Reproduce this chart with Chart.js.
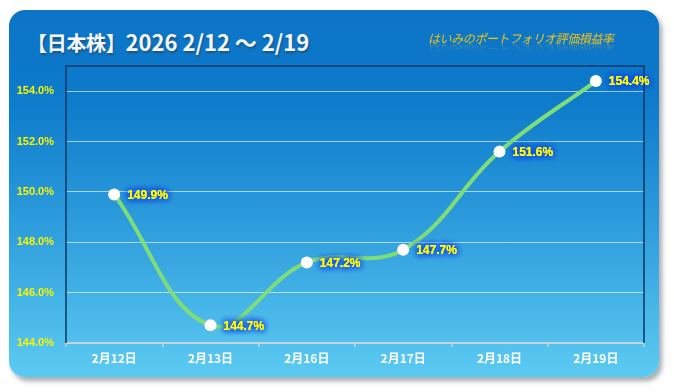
<!DOCTYPE html>
<html>
<head>
<meta charset="utf-8">
<script src="https://cdn.jsdelivr.net/npm/chart.js@4.4.1/dist/chart.umd.min.js"></script>
<style>
  html, body { margin: 0; padding: 0; background: #fff; }
  #wrap { position: relative; width: 674px; height: 392px; overflow: hidden; }
  #panel {
    position: absolute; left: 9px; top: 10px; width: 650px; height: 367px;
    border-radius: 16px;
    background: linear-gradient(180deg, #0b74c6 0%, #0e7bcb 25%, #2f9edd 60%, #5ccbf2 100%);
    box-shadow: 3px 4px 5px rgba(90, 100, 110, 0.55);
  }
  #title {
    position: absolute; left: 27px; top: 25px;
    font-family: "Noto Sans CJK JP", "Noto Sans", sans-serif; font-weight: bold; font-size: 20px;
    color: #f4f8fc; letter-spacing: -0.3px;
    text-shadow: 1px 2px 2px rgba(40, 60, 90, 0.6);
  }
  #title span { font-size: 22px; letter-spacing: 0px; }
  #sub {
    position: absolute; left: 428px; top: 29px;
    font-family: "Noto Sans CJK JP", sans-serif; font-style: italic; font-size: 12px;
    color: #f2c21a; letter-spacing: -0.4px;
    -webkit-box-reflect: below -5px linear-gradient(transparent 35%, rgba(255,255,255,0.45));
  }
  canvas { position: absolute; left: 0; top: 0; }
</style>
</head>
<body>
<div id="wrap">
  <div id="panel"></div>
  <div id="title">【日本株】<span>2026 2/12 ～ 2/19</span></div>
  <div id="sub">はいみのポートフォリオ評価損益率</div>
  <canvas id="chart" width="674" height="392"></canvas>
</div>
<script>
// chart data
const days = ['2月12日', '2月13日', '2月16日', '2月17日', '2月18日', '2月19日'];
const rates = [149.9, 144.7, 147.2, 147.7, 151.6, 154.4];
const yTicks = [144, 146, 148, 150, 152, 154];

// dark frame round the plot area
const framePlugin = {
    id: 'frame',
    beforeDatasetsDraw(chart) {
        const a = chart.chartArea;
        const ctx = chart.ctx;
        ctx.save();
        ctx.strokeStyle = '#0a3763';
        ctx.lineWidth = 1.5;
        ctx.beginPath();
        ctx.moveTo(a.left, a.bottom);
        ctx.lineTo(a.left, a.top);
        ctx.lineTo(a.right, a.top);
        ctx.lineTo(a.right, a.bottom);
        ctx.stroke();
        ctx.restore();
    }
};

// yellow value labels with blue glow
const labelPlugin = {
    id: 'valueLabels',
    afterDatasetsDraw(chart) {
        const ctx = chart.ctx;
        const meta = chart.getDatasetMeta(0);
        ctx.save();
        ctx.font = 'bold 12px "Liberation Sans", Arial, sans-serif';
        ctx.textAlign = 'left';
        ctx.textBaseline = 'middle';
        meta.data.forEach((pt, i) => {
            const txt = rates[i].toFixed(1) + '%';
            ctx.shadowColor = '#1748e8';
            ctx.shadowBlur = 6;
            ctx.fillStyle = '#ffff00';
            for (let k = 0; k < 4; k++) ctx.fillText(txt, pt.x + 13, pt.y + 1);
        });
        ctx.restore();
    }
};

new Chart(document.getElementById('chart'), {
    type: 'line',
    data: {
        labels: days,
        datasets: [{
            data: rates,
            borderColor: '#7fdd78',
            borderWidth: 4,
            tension: 0.4,
            fill: false,
            pointRadius: 6,
            pointBackgroundColor: '#ffffff',
            pointBorderColor: '#ffffff',
            pointBorderWidth: 0
        }]
    },
    options: {
        responsive: false,
        animation: false,
        layout: { padding: { top: 66, right: 30, bottom: 0, left: 0 } },
        plugins: { legend: { display: false }, tooltip: { enabled: false } },
        scales: {
            x: {
                offset: true,
                afterFit: s => { s.height = 49; },
                grid: { offset: true, drawOnChartArea: false, tickLength: 4, color: '#c6d2dc', lineWidth: 1.5 },
                border: { color: '#c6d2dc', width: 2 },
                ticks: {
                    color: '#ffffff', padding: 4,
                    font: { family: '"Noto Sans CJK JP", sans-serif', weight: 'bold', size: 12 }
                }
            },
            y: {
                min: 144,
                max: 155,
                afterFit: s => { s.width = 66; },
                afterBuildTicks: s => { s.ticks = yTicks.map(v => ({ value: v })); },
                grid: { color: 'rgba(255,255,255,0.6)', lineWidth: 1, drawTicks: false },
                border: { display: false },
                ticks: {
                    color: '#f6f600', padding: 12,
                    font: { family: '"Liberation Sans", Arial, sans-serif', weight: 'bold', size: 11 },
                    callback: v => v.toFixed(1) + '%'
                }
            }
        }
    },
    plugins: [framePlugin, labelPlugin]
});
</script>
</body>
</html>
